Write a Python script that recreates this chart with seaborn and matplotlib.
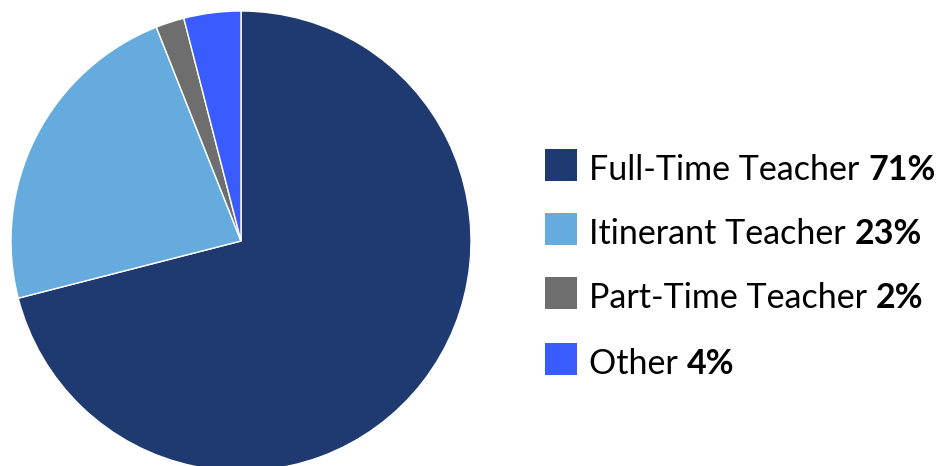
import matplotlib
matplotlib.use("Agg")
import matplotlib.pyplot as plt
import seaborn as sns
from matplotlib.patches import Rectangle

sns.set_theme(style="white")
plt.rcParams['font.family'] = ['Lato', 'DejaVu Sans']

categories = ["Full-Time Teacher", "Itinerant Teacher", "Part-Time Teacher", "Other"]
values = [71, 23, 2, 4]
labels_pct = ["71%", "23%", "2%", "4%"]
colors = ["#1F3A70", "#65ABDE", "#6E6E6E", "#3A5CFF"]

W, H = 940, 466
fig = plt.figure(figsize=(W / 100, H / 100), dpi=100)
fig.patch.set_facecolor("white")

cx, cy, r = 241, 241, 230
ax = fig.add_axes([(cx - r) / W, (H - cy - r) / H, 2 * r / W, 2 * r / H])
ax.pie(values, colors=colors, startangle=90, counterclock=False,
       wedgeprops=dict(edgecolor="white", linewidth=1))
ax.set_xlim(-1, 1)
ax.set_ylim(-1, 1)
ax.set_aspect("equal")
ax.axis("off")

fig.canvas.draw()
renderer = fig.canvas.get_renderer()

sq_top = [149, 213, 277, 343]
fs = 24.5
for i, cat in enumerate(categories):
    top = sq_top[i]
    fig.patches.append(Rectangle((545 / W, (H - top - 32) / H), 32 / W, 32 / H,
                                 transform=fig.transFigure, facecolor=colors[i],
                                 edgecolor="none"))
    base_y = (H - top - 31) / H
    t = fig.text(589 / W, base_y, cat + " ", fontsize=fs, color="black",
                 va="baseline", ha="left")
    bb = t.get_window_extent(renderer=renderer)
    fig.text(bb.x1 / W, base_y, labels_pct[i], fontsize=fs, color="black",
             fontweight="bold", va="baseline", ha="left")

fig.savefig("out.png", dpi=100, facecolor="white")
